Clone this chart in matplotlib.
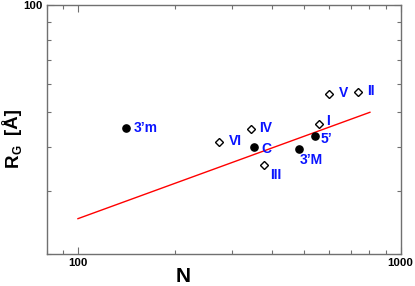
import matplotlib
matplotlib.use("Agg")
import matplotlib.pyplot as plt
from matplotlib.ticker import LogLocator, FixedLocator, NullFormatter, FixedFormatter

plt.rcParams['font.family'] = ['Liberation Sans', 'DejaVu Sans']

# filled circles
circ_labels = ["3\u2019m", "C", "3\u2019M", "5\u2019"]
circ_N = [141, 352, 484, 542]
circ_R = [45.2, 39.9, 39.4, 42.8]
circ_off = [(8, 0), (7, -2), (1, -11), (6, -3)]

# open diamonds
dia_labels = ["VI", "IV", "III", "I", "V", "II"]
dia_N = [274, 343, 378, 560, 601, 738]
dia_R = [41.2, 44.9, 35.5, 46.2, 56.4, 56.9]
dia_off = [(10, 1), (8, 1), (6, -10), (7, 3), (10, 1), (9, 1)]

# fit line endpoints
fit_N = [100, 803]
fit_R = [25.1, 50.0]

W, H = 415, 286
fig = plt.figure(figsize=(W / 100, H / 100), dpi=100)
ax = fig.add_axes([0.1125, 0.1129, 0.8530, 0.8686])
ax.set_xscale('log')
ax.set_yscale('log')
ax.set_xlim(80, 1000)
ax.set_ylim(20, 100)

ax.plot(fit_N, fit_R, color='#ff0000', lw=1.0, zorder=2)
ax.plot(circ_N, circ_R, 'o', color='black', ms=5.2, zorder=3, linestyle='none')
ax.plot(dia_N, dia_R, 'D', mfc='white', mec='black', mew=1.0, ms=4.2, zorder=3, linestyle='none')

for lab, n, r, off in zip(circ_labels + dia_labels, circ_N + dia_N, circ_R + dia_R, circ_off + dia_off):
    ax.annotate(lab, (n, r), xytext=off, textcoords='offset pixels',
                ha='left', va='center', color='#0a14ff', fontsize=10, fontweight='bold')

gray = '#707070'
for s in ax.spines.values():
    s.set_color(gray)
    s.set_linewidth(1.0)

ax.xaxis.set_major_locator(FixedLocator([100, 1000]))
ax.xaxis.set_major_formatter(FixedFormatter(['100', '1000']))
ax.xaxis.set_minor_locator(LogLocator(base=10, subs=[2, 3, 4, 5, 6, 7, 8, 9]))
ax.xaxis.set_minor_formatter(NullFormatter())
ax.yaxis.set_major_locator(FixedLocator([100]))
ax.yaxis.set_major_formatter(FixedFormatter(['100']))
ax.yaxis.set_minor_locator(LogLocator(base=10, subs=[2, 3, 4, 5, 6, 7, 8, 9]))
ax.yaxis.set_minor_formatter(NullFormatter())

ax.tick_params(which='both', direction='in', top=True, right=True, color=gray, width=0.8)
ax.tick_params(which='major', length=5, labelsize=8.2, pad=3)
ax.tick_params(which='minor', length=3)
for t in ax.get_xticklabels() + ax.get_yticklabels():
    t.set_fontweight('bold')

# x label
fig.text(183 / W, 1 - 277 / H, 'N', ha='center', va='center', fontsize=15, fontweight='bold')

# y label: R with subscript G and [Å], rotated
def ytext(s, x_px, y_px, size):
    fig.text(x_px / W, 1 - y_px / H, s, rotation=90, rotation_mode='anchor',
             ha='left', va='baseline', fontsize=size, fontweight='bold')

ytext('R', 17.5, 167, 13.5)
ytext('G', 21.5, 154.0, 8.5)
ytext('[Å]', 17.5, 134, 13.5)

fig.savefig('out.png', dpi=100)
